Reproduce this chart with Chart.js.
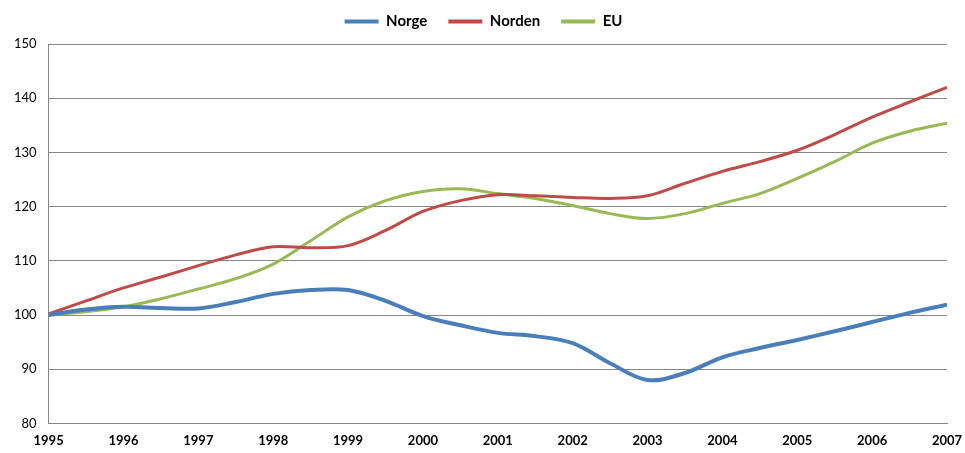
<!DOCTYPE html>
<html lang="no">
<head>
  <meta charset="UTF-8" />
  <title>Norge, Norden, EU</title>
  <script src="https://cdn.jsdelivr.net/npm/chart.js"></script>
  <style>
    html, body { margin: 0; padding: 0; background: #fff; overflow: hidden; }
  </style>
</head>
<body>
  <canvas id="grafikk" width="965" height="453"></canvas>

  <script>
    // halvårlige punkter
    const perioder = [1995, 1995.5, 1996, 1996.5, 1997, 1997.5, 1998, 1998.5, 1999, 1999.5,
      2000, 2000.5, 2001, 2001.5, 2002, 2002.5, 2003, 2003.5, 2004, 2004.5,
      2005, 2005.5, 2006, 2006.5, 2007];

    const norge = [100, 101, 101.5, 101.3, 101.2, 102.4, 103.9, 104.6, 104.6, 102.6,
      99.8, 98.1, 96.7, 96.1, 94.8, 91.1, 88, 89.3, 92.2, 93.9,
      95.4, 97.0, 98.7, 100.4, 101.9];

    const norden = [100.2, 102.6, 105, 107, 109.1, 111.1, 112.6, 112.4, 112.8, 115.6,
      119.1, 121.1, 122.2, 122, 121.7, 121.5, 122, 124.3, 126.5, 128.3,
      130.4, 133.3, 136.5, 139.3, 142];

    const eu = [100, 100.6, 101.5, 103, 104.8, 106.7, 109.4, 113.7, 118.1, 121.1,
      122.8, 123.3, 122.4, 121.5, 120.2, 118.7, 117.8, 118.7, 120.6, 122.4,
      125.2, 128.3, 131.7, 133.9, 135.4];

    const yTicks = [80, 90, 100, 110, 120, 130, 140, 150];

    function punkter(verdier) {
      return verdier.map((v, i) => ({ x: perioder[i], y: v }));
    }

    function serie(navn, verdier, farge, bredde) {
      return {
        label: navn,
        data: punkter(verdier),
        borderColor: farge,
        backgroundColor: farge,
        borderWidth: bredde,
        pointRadius: 0,
        tension: 0.35,
        fill: false
      };
    }

    // litt ekstra luft mellom forklaring og plottet
    const legendAvstand = {
      id: 'legendAvstand',
      beforeLayout(chart) {
        const lg = chart.legend;
        if (lg && !lg._utvidet) {
          const fit = lg.fit;
          lg.fit = function () {
            fit.call(this);
            this.height += 5;
          };
          lg._utvidet = true;
        }
      }
    };

    const ctx = document.getElementById("grafikk").getContext("2d");
    new Chart(ctx, {
      type: 'line',
      data: {
        datasets: [
          serie("Norge", norge, '#4a7ebb', 4),
          serie("Norden", norden, '#be4b48', 3),
          serie("EU", eu, '#98b954', 3)
        ]
      },
      options: {
        responsive: false,
        animation: false,
        layout: { padding: { left: 2, right: 0, top: -7, bottom: -6 } },
        plugins: {
          legend: {
            position: 'top',
            labels: {
              boxWidth: 34,
              boxHeight: 4,
              padding: 21,
              color: '#000',
              font: { family: 'Lato', size: 15, weight: 'bold' },
              generateLabels(chart) {
                return chart.data.datasets.map((d, i) => ({
                  text: d.label,
                  fillStyle: d.borderColor,
                  strokeStyle: d.borderColor,
                  lineWidth: 0,
                  datasetIndex: i
                }));
              }
            }
          },
          tooltip: { enabled: false }
        },
        scales: {
          x: {
            type: 'linear',
            min: 1995,
            max: 2007,
            afterBuildTicks(axis) {
              axis.ticks = perioder.filter(p => p % 1 === 0).map(p => ({ value: p }));
            },
            afterFit(axis) {
              axis.paddingRight = 18;
            },
            grid: { display: false, drawTicks: false },
            border: { color: '#868686' },
            ticks: {
              color: '#000',
              padding: 10,
              maxRotation: 0,
              autoSkip: false,
              font: { family: 'Lato', size: 13, weight: 'bold' },
              callback: v => String(v)
            }
          },
          y: {
            min: 80,
            max: 150,
            afterBuildTicks(axis) {
              axis.ticks = yTicks.map(v => ({ value: v }));
            },
            grid: { color: '#868686', drawTicks: false },
            border: { color: '#868686' },
            ticks: {
              color: '#000',
              padding: 12,
              font: { family: 'Lato', size: 13 }
            }
          }
        }
      },
      plugins: [legendAvstand]
    });
  </script>
</body>
</html>
